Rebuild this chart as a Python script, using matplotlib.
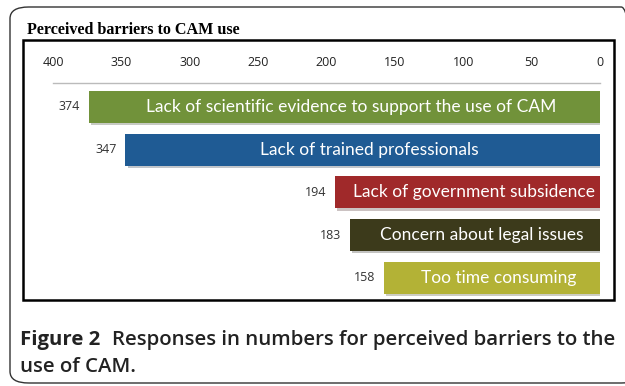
import matplotlib.pyplot as plt
import matplotlib.patheffects as pe
from matplotlib.patches import Rectangle, FancyBboxPatch

barriers = [
    "Lack of scientific evidence to support the use of CAM",
    "Lack of trained professionals",
    "Lack of government subsidence",
    "Concern about legal issues",
    "Too time consuming",
]
counts = [374, 347, 194, 183, 158]
bar_colors = ["#71923A", "#1F5B94", "#A0292A", "#3C3A1B", "#B3B236"]
ticks = [400, 350, 300, 250, 200, 150, 100, 50, 0]

W, H = 625, 386
fig = plt.figure(figsize=(W / 100, H / 100), dpi=100)


def px(x, y):
    # pixel coords (top-left origin) -> figure fraction
    return x / W, 1 - y / H


# outer rounded frame, right side runs off the picture
fig.patches.append(FancyBboxPatch(px(10, 383), (640 - 10) / W, (383 - 7) / H,
                                  boxstyle="round,pad=0,rounding_size=0.03",
                                  transform=fig.transFigure, fill=False,
                                  edgecolor="#333333", linewidth=1.0))
# inner black chart frame
fig.patches.append(Rectangle(px(23, 300), (614 - 23) / W, (300 - 40) / H,
                             transform=fig.transFigure, fill=False,
                             edgecolor="black", linewidth=1.8))

fig.text(*px(27, 30), "Perceived barriers to CAM use", family="Liberation Serif",
         fontweight="bold", fontsize=11.6, va="center", ha="left")

ax = fig.add_axes([53 / W, 1 - 298 / H, (600 - 53) / W, (298 - 83) / H])
ypos = list(range(len(counts)))
bars = ax.barh(ypos, counts, height=0.75, color=bar_colors)
for b in bars:
    b.set_path_effects([pe.SimplePatchShadow(offset=(1.5, -1.5), alpha=0.25), pe.Normal()])

ax.set_xlim(400, 0)
ax.set_ylim(4.47, -0.56)
ax.xaxis.tick_top()
ax.set_xticks(ticks)
ax.set_xticklabels([str(t) for t in ticks], family="Open Sans", fontsize=9, color="#222222")
ax.tick_params(axis="x", length=0, pad=10)
ax.set_yticks([])
for s in ["left", "right", "bottom"]:
    ax.spines[s].set_visible(False)
ax.spines["top"].set_color("#bbbbbb")
ax.spines["top"].set_linewidth(1.0)

for y, v, label in zip(ypos, counts, barriers):
    ax.text(v + 6, y, str(v), ha="right", va="center", family="Open Sans",
            fontsize=9, color="#333333")
    ax.text(v / 2 - 5, y, label, ha="center", va="center", family="Lato",
            fontsize=12.5, color="white")

cap = dict(family="Open Sans", fontsize=14.7, va="center", color="#222222")
fig.text(*px(20, 340), "Figure 2", fontweight="bold", ha="left", **cap)
fig.text(*px(615, 340), "Responses in numbers for perceived barriers to the",
         fontweight="semibold", ha="right", **cap)
fig.text(*px(20, 367), "use of CAM.", fontweight="semibold", ha="left", **cap)

fig.savefig("out.png", dpi=100)
